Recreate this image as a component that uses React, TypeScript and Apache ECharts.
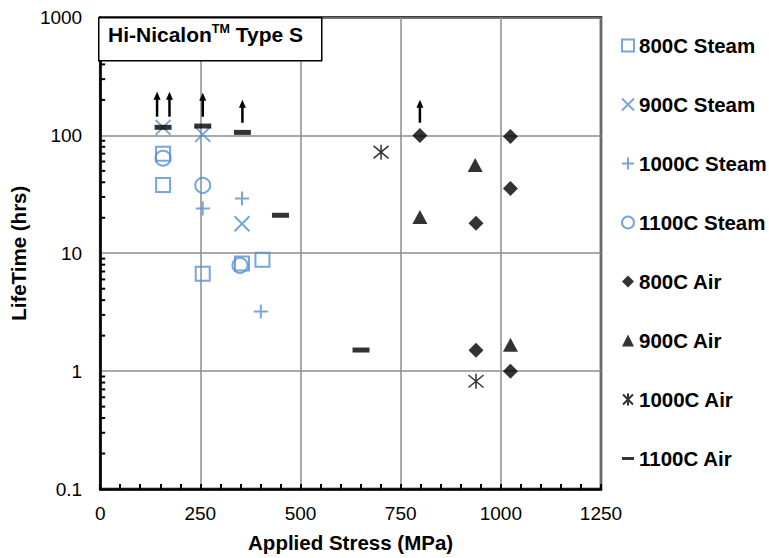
import React, { useEffect, useRef } from "react";
import * as echarts from "echarts";

const xTicks = [0, 250, 500, 750, 1000, 1250];
const yTickDecades = [0.1, 1, 10, 100];
const yMinorMultipliers = [2, 3, 4, 5, 6, 7, 8, 9];

const steam800: [number, number][] = [[157, 70], [157, 38], [256, 6.7], [354, 8.2], [405, 8.8]];
const steam900: [number, number][] = [[157, 117], [256, 102], [354, 17.8]];
const steam1000: [number, number][] = [[256, 24], [354, 29.1], [401, 3.2]];
const steam1100: [number, number][] = [[157, 64], [256, 37.7], [349, 7.9]];
const air800: [number, number][] = [[798, 100], [938, 18], [938, 1.5], [1024, 98], [1024, 35.5], [1024, 1.0]];
const air900: [number, number][] = [[798, 20.3], [936, 56], [1024, 1.67]];
const air1000: [number, number][] = [[701, 72], [938, 0.82]];
const air1100: [number, number][] = [[157, 117], [256, 120], [355, 106], [450, 21], [651, 1.51]];

// runout arrows: [x, from, to]
const arrowX = [142, 173, 256, 355, 798];
const arrowFrom = [144, 144, 144, 128, 128];
const arrowTo = [235, 235, 230, 201, 201];

const BLUE = "#558ED5";
const FONT = "'Liberation Sans', Arial, sans-serif";

const SYM_X = "path://M0,0L10,10M10,0L0,10";
const SYM_PLUS = "path://M5,0L5,10M0,5L10,5";
const SYM_AST = "path://M1,1L11,11M11,1L1,11M6,0L6,12";
const SYM_DASH = "path://M0,0L16,0L16,4L0,4Z";

const names = [
  "800C Steam",
  "900C Steam",
  "1000C Steam",
  "1100C Steam",
  "800C Air",
  "900C Air",
  "1000C Air",
  "1100C Air",
];

export default function App() {
  const ref = useRef<HTMLDivElement>(null);
  useEffect(() => {
    if (!ref.current) return;
    const chart = echarts.init(ref.current, null, { renderer: "svg" });

    const minorTicks: number[][] = [];
    yTickDecades.forEach((d) => yMinorMultipliers.forEach((m) => minorTicks.push([0, d * m])));
    const arrows = arrowX.map((x, i) => [x, arrowFrom[i], arrowTo[i]]);

    const legendData = names.map((n, i) =>
      i === 7 ? { name: n, icon: SYM_DASH } : { name: n }
    );

    const option: any = {
      animation: false,
      backgroundColor: "#fff",
      grid: {
        left: 98,
        right: 168,
        top: 17.5,
        bottom: 67,
        show: true,
        borderColor: "#000",
        borderWidth: 2.5,
        backgroundColor: "transparent",
      },
      legend: {
        orient: "vertical",
        left: 616,
        top: 30,
        itemWidth: 12,
        itemHeight: 12,
        itemGap: 38,
        data: legendData,
        textStyle: {
          fontSize: 20.5,
          fontWeight: "bold",
          fontFamily: FONT,
          color: "#000",
          lineHeight: 21,
        },
      },
      xAxis: {
        type: "value",
        min: 0,
        max: 1250,
        interval: 250,
        name: "Applied Stress (MPa)",
        nameLocation: "middle",
        nameGap: 43,
        nameTextStyle: { fontSize: 20.5, fontWeight: "bold", fontFamily: FONT, color: "#000" },
        axisLine: { lineStyle: { color: "#000", width: 2.5 } },
        axisTick: { show: true, inside: true, length: 5, lineStyle: { color: "#000", width: 2 } },
        minorTick: { show: true, splitNumber: 5, length: 5, lineStyle: { color: "#000", width: 2 } },
        axisLabel: {
          fontSize: 19,
          fontFamily: FONT,
          color: "#000",
          margin: 15,
          formatter: (v: number) => (xTicks.includes(v) ? String(v) : ""),
        },
        splitLine: { show: true, lineStyle: { color: "#8c8c8c", width: 1.5 } },
      },
      yAxis: {
        type: "log",
        logBase: 10,
        min: 0.1,
        max: 1000,
        name: "LifeTime (hrs)",
        nameLocation: "middle",
        nameGap: 64,
        nameTextStyle: { fontSize: 20.5, fontWeight: "bold", fontFamily: FONT, color: "#000" },
        axisLine: { show: true, lineStyle: { color: "#000", width: 2.5 } },
        axisTick: { show: false },
        minorTick: { show: false },
        axisLabel: {
          fontSize: 19,
          fontFamily: FONT,
          color: "#000",
          margin: 18,
          formatter: (v: number) => String(v),
        },
        splitLine: { show: true, lineStyle: { color: "#8c8c8c", width: 1.5 } },
      },
      graphic: [
        {
          type: "rect",
          left: 98,
          top: 17,
          shape: { width: 223, height: 43 },
          style: { fill: "#fff", stroke: "#000", lineWidth: 1.5 },
          z: 100,
        },
        {
          type: "text",
          left: 108,
          top: 22,
          z: 101,
          style: {
            text: "{a|Hi-Nicalon}{s|TM}{a| Type S}",
            rich: {
              a: { fontSize: 21, fontWeight: "bold", fontFamily: FONT, fill: "#000", lineHeight: 25 },
              s: { fontSize: 12.5, fontWeight: "bold", fontFamily: FONT, fill: "#000", lineHeight: 14, verticalAlign: "top" },
            },
          },
        },
      ],
      series: [
        {
          name: "_minorTicks",
          type: "custom",
          silent: true,
          clip: false,
          data: minorTicks,
          encode: { x: 0, y: 1 },
          renderItem: (params: any, api: any) => {
            const p = api.coord([0, api.value(1)]);
            return {
              type: "line",
              shape: { x1: p[0], y1: p[1], x2: p[0] + 5, y2: p[1] },
              style: { stroke: "#000", lineWidth: 2 },
            };
          },
        },
        {
          name: names[0],
          type: "scatter",
          data: steam800,
          symbol: "rect",
          symbolSize: 14,
          itemStyle: { color: "rgba(255,255,255,0)", borderColor: BLUE, borderWidth: 2 },
        },
        {
          name: names[1],
          type: "scatter",
          data: steam900,
          symbol: SYM_X,
          symbolSize: 15,
          itemStyle: { color: "rgba(255,255,255,0)", borderColor: BLUE, borderWidth: 2 },
        },
        {
          name: names[2],
          type: "scatter",
          data: steam1000,
          symbol: SYM_PLUS,
          symbolSize: 14,
          itemStyle: { color: "rgba(255,255,255,0)", borderColor: BLUE, borderWidth: 2 },
        },
        {
          name: names[3],
          type: "scatter",
          data: steam1100,
          symbol: "circle",
          symbolSize: 15,
          itemStyle: { color: "rgba(255,255,255,0)", borderColor: BLUE, borderWidth: 2 },
        },
        {
          name: names[4],
          type: "scatter",
          data: air800,
          symbol: "diamond",
          symbolSize: 15,
          itemStyle: { color: "#000" },
        },
        {
          name: names[5],
          type: "scatter",
          data: air900,
          symbol: "triangle",
          symbolSize: [15, 14],
          itemStyle: { color: "#000" },
        },
        {
          name: names[6],
          type: "scatter",
          data: air1000,
          symbol: SYM_AST,
          symbolSize: 15,
          itemStyle: { color: "rgba(0,0,0,0)", borderColor: "#000", borderWidth: 1.5 },
        },
        {
          name: names[7],
          type: "scatter",
          data: air1100,
          symbol: "rect",
          symbolSize: [17, 5],
          itemStyle: { color: "#000" },
        },
        {
          name: "_arrows",
          type: "custom",
          silent: true,
          data: arrows,
          encode: { x: 0, y: 1 },
          renderItem: (params: any, api: any) => {
            const p1 = api.coord([api.value(0), api.value(1)]);
            const p2 = api.coord([api.value(0), api.value(2)]);
            const head = 8;
            return {
              type: "group",
              children: [
                {
                  type: "line",
                  shape: { x1: p1[0], y1: p1[1], x2: p2[0], y2: p2[1] + head - 1 },
                  style: { stroke: "#000", lineWidth: 2.5 },
                },
                {
                  type: "polygon",
                  shape: {
                    points: [
                      [p2[0], p2[1]],
                      [p2[0] - 3.5, p2[1] + head],
                      [p2[0] + 3.5, p2[1] + head],
                    ],
                  },
                  style: { fill: "#000" },
                },
              ],
            };
          },
        },
      ],
    };
    chart.setOption(option);
    return () => chart.dispose();
  }, []);
  return (
    <div
      ref={ref}
      style={{ position: "fixed", left: 0, top: 0, width: 769, height: 558, background: "#fff" }}
    />
  );
}
